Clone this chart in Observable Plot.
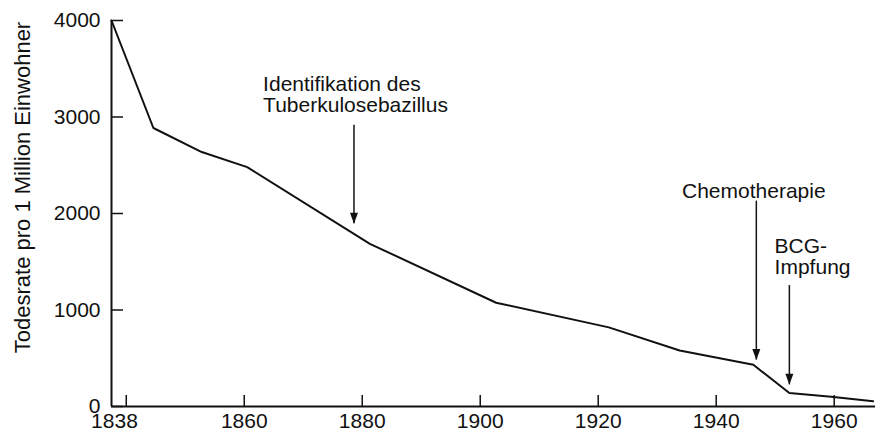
<!DOCTYPE html>
<html><head><meta charset="utf-8">
<script src="https://cdn.jsdelivr.net/npm/d3@7"></script>
<script src="https://cdn.jsdelivr.net/npm/@observablehq/plot@0.6"></script>
<style>
html,body{margin:0;padding:0;background:#fff;}
</style></head><body><div id="chart"></div>
<script>
// Data
const years = [1837.5, 1844.6, 1852.8, 1860.5, 1881.3, 1902.7, 1921.8, 1933.8, 1946.3, 1952.4, 1959.5, 1966.6];
const rates = [4000, 2886, 2637, 2481, 1686, 1075, 820, 580, 432, 139, 101, 55];

const xDomain = [1837.5, 1967];
const yDomain = [0, 4000];
const yTicks = [0, 1000, 2000, 3000, 4000];
const xTickMarks = [1840, 1860, 1880, 1900, 1920, 1940, 1960];
const xTickLabels = [1838, 1860, 1880, 1900, 1920, 1940, 1960];
const yLabel = "Todesrate pro 1 Million Einwohner";

// Annotations
const eventLabels = ["Identifikation des\nTuberkulosebazillus", "Chemotherapie", "BCG-\nImpfung"];
const eventLabelYear = [1863.2, 1934.2, 1949.9];
const eventLabelRate = [3231, 2231, 1549];
const arrowYear = [1878.6, 1946.8, 1952.4];
const arrowTop = [2914, 2128, 1253];
const arrowTip = [1893, 482, 225];

const series = years.map((y, i) => ({year: y, rate: rates[i]}));
const events = eventLabels.map((l, i) => ({
  label: l, lx: eventLabelYear[i], ly: eventLabelRate[i],
  ax: arrowYear[i], atop: arrowTop[i], atip: arrowTip[i]
}));

const arrowHead = {
  draw(ctx) {
    ctx.moveTo(0, 0);
    ctx.lineTo(-4, -11);
    ctx.lineTo(4, -11);
    ctx.closePath();
  }
};

const ink = "#111";
const plain = d => `${d}`;

const chart = Plot.plot({
  width: 881,
  height: 436,
  marginLeft: 111,
  marginRight: 6,
  marginTop: 20,
  marginBottom: 30,
  style: {fontFamily: "'Liberation Sans', Arial, Helvetica, sans-serif", fontSize: "21px", color: ink, background: "#fff"},
  x: {domain: xDomain},
  y: {domain: yDomain},
  marks: [
    Plot.axisY({ticks: yTicks, tickSize: -12, fill: "none", label: null, strokeWidth: 1.5}),
    Plot.axisY({ticks: yTicks, tickSize: 0, tickPadding: 11, label: null, fontSize: 21, tickFormat: plain}),
    Plot.axisX({ticks: xTickMarks, tickSize: -11, fill: "none", label: null, strokeWidth: 1.5}),
    Plot.axisX({ticks: xTickLabels, tickSize: 0, tickPadding: 7, label: null, fontSize: 21, tickFormat: plain}),
    Plot.ruleY([yDomain[0]], {stroke: ink, strokeWidth: 2}),
    Plot.ruleX([xDomain[0]], {stroke: ink, strokeWidth: 2}),
    Plot.line(series, {x: "year", y: "rate", stroke: ink, strokeWidth: 2}),
    Plot.ruleX(events, {x: "ax", y1: "atop", y2: "atip", stroke: ink, strokeWidth: 1.5}),
    Plot.dot(events, {x: "ax", y: "atip", symbol: arrowHead, fill: ink, stroke: "none"}),
    Plot.text(events, {x: "lx", y: "ly", text: "label", textAnchor: "start", lineAnchor: "middle", fontSize: 21, fill: ink}),
    Plot.text([yLabel], {text: d => d, frameAnchor: "left", rotate: -90, textAnchor: "middle", lineAnchor: "middle", dx: -89, dy: -26, fontSize: 22, fill: ink})
  ]
});
document.getElementById("chart").appendChild(chart);
</script>
</body></html>
